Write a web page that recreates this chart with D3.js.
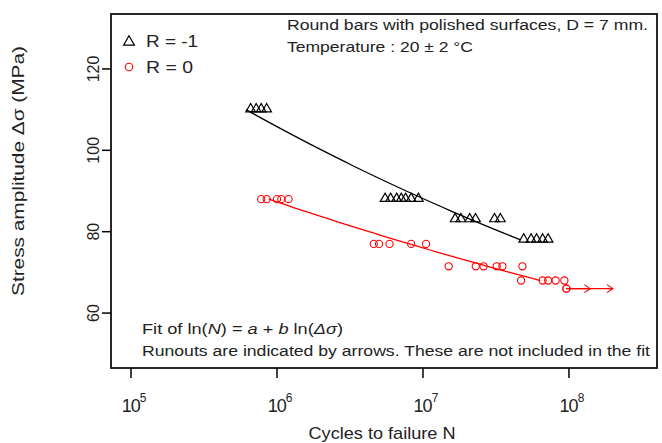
<!DOCTYPE html>
<html>
<head>
<meta charset="utf-8">
<script src="https://cdn.jsdelivr.net/npm/d3@7"></script>
<style>
  body { margin: 0; background: #fff; }
  text { font-family: "Liberation Sans", Arial, sans-serif; }
</style>
</head>
<body>
<div id="grafica"></div>
<script>
// Datos R = -1 (triangulos)
const negS = [110, 110, 110, 110, 88, 88, 88, 88, 88, 88, 88, 83, 83, 83, 83, 83, 83, 78, 78, 78, 78, 78];
const negN = [6.6e5, 7.2e5, 7.8e5, 8.5e5, 5.5e6, 6.0e6, 6.6e6, 7.1e6, 7.6e6, 8.3e6, 9.3e6,
              1.66e7, 1.82e7, 2.09e7, 2.29e7, 3.09e7, 3.39e7, 4.9e7, 5.5e7, 6.0e7, 6.6e7, 7.2e7];

// Datos R = 0 (circulos)
const cerS = [88, 88, 88, 88, 88, 77, 77, 77, 77, 77, 71.5, 71.5, 71.5, 71.5, 71.5, 71.5, 68, 68, 68, 68, 68];
const cerN = [7.8e5, 8.5e5, 1.0e6, 1.07e6, 1.2e6, 4.6e6, 5.0e6, 5.9e6, 8.3e6, 1.05e7,
              1.5e7, 2.3e7, 2.6e7, 3.2e7, 3.5e7, 4.8e7, 4.7e7, 6.6e7, 7.2e7, 8.1e7, 9.3e7];

// Runouts (no incluidos en el ajuste)
const runS = [66, 66];
const runN = [9.6e7, 9.6e7];
const runFin = [1.4e8, 2.0e8];

const xTicks = [1e5, 1e6, 1e7, 1e8];
const yTicks = [60, 80, 100, 120];

const width = 662, height = 443;
const margin = {top: 14, right: 5, bottom: 75, left: 111};

const svg = d3.select("#grafica").append("svg")
    .attr("width", width)
    .attr("height", height);

const x = d3.scaleLog()
    .domain([Math.pow(10, 4.863), Math.pow(10, 8.603)])
    .range([margin.left, width - margin.right]);
const y = d3.scaleLinear()
    .domain([46.5, 133.5])
    .range([height - margin.bottom, margin.top]);

//Ajuste ln(N) = a + b ln(S)
function ajuste(S, N) {
    const lx = S.map(Math.log), ly = N.map(Math.log);
    const mx = d3.mean(lx), my = d3.mean(ly);
    let sxy = 0, sxx = 0;
    lx.forEach(function(v, i) { sxy += (v - mx) * (ly[i] - my); sxx += (v - mx) * (v - mx); });
    const b = sxy / sxx, a = my - b * mx;
    const ext = d3.extent(S);
    return d3.range(0, 41).map(function(i) {
        const s = ext[0] + (ext[1] - ext[0]) * i / 40;
        return {s: s, n: Math.exp(a + b * Math.log(s))};
    });
}

const linea = d3.line()
    .x(function(d) { return x(d.n); })
    .y(function(d) { return y(d.s); });

svg.append("path")
    .datum(ajuste(negS, negN))
    .attr("d", linea)
    .attr("fill", "none")
    .attr("stroke", "black")
    .attr("stroke-width", 1.3);

svg.append("path")
    .datum(ajuste(cerS, cerN))
    .attr("d", linea)
    .attr("fill", "none")
    .attr("stroke", "red")
    .attr("stroke-width", 1.3);

//Puntos
const tri = d3.symbol().type(d3.symbolTriangle).size(40);
svg.selectAll(".tri")
    .data(negS)
    .enter()
    .append("path")
    .attr("d", tri)
    .attr("transform", function(d, i) { return "translate(" + x(negN[i]) + "," + (y(d) - 0.5) + ")"; })
    .attr("fill", "none")
    .attr("stroke", "black")
    .attr("stroke-width", 1.2);

svg.selectAll(".circ")
    .data(cerS)
    .enter()
    .append("circle")
    .attr("cx", function(d, i) { return x(cerN[i]); })
    .attr("cy", function(d) { return y(d); })
    .attr("r", 3.6)
    .attr("fill", "none")
    .attr("stroke", "red")
    .attr("stroke-width", 1.1);

//Runouts con flechas
svg.selectAll(".run")
    .data(runS)
    .enter()
    .append("circle")
    .attr("cx", function(d, i) { return x(runN[i]); })
    .attr("cy", function(d) { return y(d); })
    .attr("r", 3.6)
    .attr("fill", "none")
    .attr("stroke", "red")
    .attr("stroke-width", 1.1);

runS.forEach(function(s, i) {
    const x0 = x(runN[i]), x1 = x(runFin[i]), yy = y(s);
    svg.append("path")
        .attr("d", "M" + x0 + "," + yy + "H" + x1 + "M" + (x1 - 6) + "," + (yy - 4) + "L" + x1 + "," + yy + "L" + (x1 - 6) + "," + (yy + 4))
        .attr("fill", "none")
        .attr("stroke", "red")
        .attr("stroke-width", 1.1);
});

//Marco
svg.append("rect")
    .attr("x", margin.left)
    .attr("y", margin.top)
    .attr("width", width - margin.left - margin.right)
    .attr("height", height - margin.top - margin.bottom)
    .attr("fill", "none")
    .attr("stroke", "#111")
    .attr("stroke-width", 1.8);

//Eje x
const gx = svg.append("g");
xTicks.forEach(function(t) {
    gx.append("line")
        .attr("x1", x(t)).attr("x2", x(t))
        .attr("y1", height - margin.bottom).attr("y2", height - margin.bottom + 10)
        .attr("stroke", "black").attr("stroke-width", 1.5);
    const lbl = gx.append("text")
        .attr("x", x(t) + 3)
        .attr("y", 412)
        .attr("text-anchor", "middle")
        .attr("font-size", 18)
        .attr("fill", "#222");
    lbl.append("tspan").attr("letter-spacing", -1).text("10");
    lbl.append("tspan").attr("dy", -10).attr("font-size", 12).text(Math.round(Math.log10(t)));
});

//Eje y
const gy = svg.append("g");
yTicks.forEach(function(t) {
    gy.append("line")
        .attr("x1", margin.left - 9).attr("x2", margin.left)
        .attr("y1", y(t)).attr("y2", y(t))
        .attr("stroke", "black").attr("stroke-width", 1.5);
    gy.append("text")
        .attr("transform", "translate(99," + y(t) + ") rotate(-90)")
        .attr("text-anchor", "middle")
        .attr("font-size", 16)
        .attr("fill", "#222")
        .text(t);
});

//Titulos de ejes
svg.append("text")
    .attr("x", 382)
    .attr("y", 439)
    .attr("text-anchor", "middle")
    .attr("font-size", 17)
    .attr("fill", "#222")
    .attr("textLength", 147).attr("lengthAdjust", "spacingAndGlyphs")
    .text("Cycles to failure N");

svg.append("text")
    .attr("transform", "translate(24,171) rotate(-90)")
    .attr("text-anchor", "middle")
    .attr("font-size", 17)
    .attr("fill", "#222")
    .attr("textLength", 250).attr("lengthAdjust", "spacingAndGlyphs")
    .text("Stress amplitude Δσ (MPa)");

//Leyenda
svg.append("path")
    .attr("d", d3.symbol().type(d3.symbolTriangle).size(50))
    .attr("transform", "translate(129,42)")
    .attr("fill", "none").attr("stroke", "black").attr("stroke-width", 1.2);
svg.append("circle")
    .attr("cx", 129).attr("cy", 67).attr("r", 3.8)
    .attr("fill", "none").attr("stroke", "red").attr("stroke-width", 1.1);
svg.append("text").attr("x", 146).attr("y", 47).attr("font-size", 17).attr("fill", "#222")
    .attr("textLength", 52).attr("lengthAdjust", "spacingAndGlyphs").text("R = -1");
svg.append("text").attr("x", 146).attr("y", 73).attr("font-size", 17).attr("fill", "#222")
    .attr("textLength", 47).attr("lengthAdjust", "spacingAndGlyphs").text("R = 0");

//Notas
svg.append("text").attr("x", 287).attr("y", 30).attr("font-size", 15.5).attr("fill", "#222")
    .attr("textLength", 361).attr("lengthAdjust", "spacingAndGlyphs")
    .text("Round bars with polished surfaces, D = 7 mm.");
svg.append("text").attr("x", 287).attr("y", 52).attr("font-size", 15.5).attr("fill", "#222")
    .attr("textLength", 186).attr("lengthAdjust", "spacingAndGlyphs")
    .text("Temperature : 20 ± 2 °C");

const fit = svg.append("text").attr("x", 142).attr("y", 334).attr("font-size", 15.5).attr("fill", "#222")
    .attr("textLength", 201).attr("lengthAdjust", "spacingAndGlyphs");
fit.append("tspan").text("Fit of ln(");
fit.append("tspan").attr("font-style", "italic").text("N");
fit.append("tspan").text(") = ");
fit.append("tspan").attr("font-style", "italic").text("a");
fit.append("tspan").text(" + ");
fit.append("tspan").attr("font-style", "italic").text("b");
fit.append("tspan").text(" ln(");
fit.append("tspan").attr("font-style", "italic").text("Δσ");
fit.append("tspan").text(")");

svg.append("text").attr("x", 142).attr("y", 356).attr("font-size", 15.5).attr("fill", "#222")
    .attr("textLength", 508).attr("lengthAdjust", "spacingAndGlyphs")
    .text("Runouts are indicated by arrows. These are not included in the fit");
</script>
</body>
</html>
